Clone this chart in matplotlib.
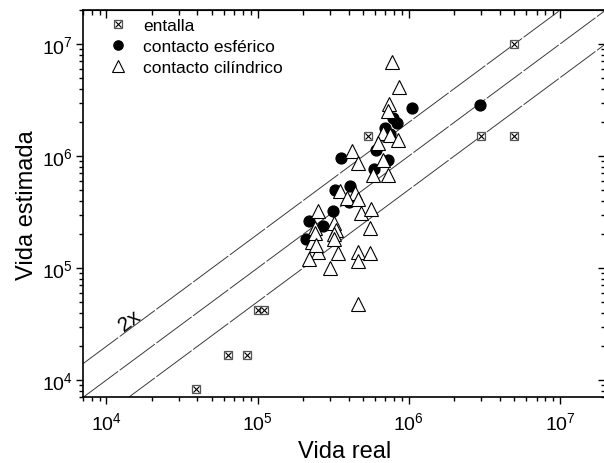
import numpy as np
import matplotlib
matplotlib.use("Agg")
import matplotlib.pyplot as plt
from matplotlib.ticker import NullFormatter
from matplotlib.legend_handler import HandlerTuple

plt.rcParams["font.family"] = ["Liberation Sans", "DejaVu Sans"]
plt.rcParams["mathtext.fontset"] = "custom"
plt.rcParams["mathtext.rm"] = "Liberation Sans"
plt.rcParams["mathtext.it"] = "Liberation Sans:italic"
plt.rcParams["mathtext.bf"] = "Liberation Sans:bold"
plt.rcParams["mathtext.default"] = "regular"

# vida real (x) / vida estimada (y), ciclos
entalla_real = [5.0e6, 3.0e6, 5.0e6, 5.4e5, 1.0e5, 1.1e5, 6.4e4, 8.5e4, 3.9e4]
entalla_est = [1.0e7, 1.5e6, 1.5e6, 1.5e6, 4.2e4, 4.2e4, 1.67e4, 1.67e4, 8.3e3]

esferico_real = [1.05e6, 2.97e6, 7.9e5, 8.4e5, 7.0e5, 7.5e5, 6.1e5, 3.57e5, 7.3e5,
                 5.9e5, 4.1e5, 3.26e5, 4.04e5, 3.16e5, 2.2e5, 2.72e5, 2.1e5]
esferico_est = [2.68e6, 2.85e6, 2.18e6, 1.97e6, 1.78e6, 1.57e6, 1.13e6, 9.6e5, 9.2e5,
                7.66e5, 5.4e5, 4.97e5, 3.88e5, 3.23e5, 2.63e5, 2.37e5, 1.8e5]

cilindrico_real = [7.8e5, 8.6e5, 7.4e5, 7.3e5, 6.8e5, 7.5e5, 8.5e5, 6.3e5, 4.2e5,
                   4.6e5, 6.7e5, 5.8e5, 7.3e5, 3.5e5, 4.4e5, 3.9e5, 4.6e5, 2.5e5,
                   4.8e5, 5.6e5, 3.2e5, 2.4e5, 3.3e5, 3.2e5, 5.5e5, 2.3e5, 3.2e5,
                   2.5e5, 3.4e5, 4.6e5, 5.5e5, 4.6e5, 2.2e5, 3.0e5, 4.6e5, 2.4e5,
                   2.45e5]
cilindrico_est = [6.9e6, 4.1e6, 2.9e6, 2.5e6, 1.6e6, 1.55e6, 1.4e6, 1.3e6, 1.1e6,
                  8.7e5, 9.2e5, 6.8e5, 6.8e5, 4.9e5, 4.7e5, 4.2e5, 4.1e5, 3.2e5,
                  3.1e5, 3.4e5, 2.5e5, 2.3e5, 2.2e5, 2.0e5, 2.3e5, 1.7e5, 1.8e5,
                  1.4e5, 1.35e5, 1.4e5, 1.35e5, 1.15e5, 1.2e5, 1.0e5, 4.8e4, 2.05e5,
                  1.6e5]

# bandas: estimada = factor * real
factores = [2.0, 1.0, 0.5]
xlim = (7e3, 2e7)
ylim = (7e3, 2e7)

W, H = 604, 464
fig = plt.figure(figsize=(W / 100, H / 100), dpi=100)
# axes placed in pixels (right spine falls just outside the canvas, as in the original)
x0, x1, ytop, ybot = 83, 605.5, 11.3, 398.4
ax = fig.add_axes([x0 / W, (H - ybot) / H, (x1 - x0) / W, (ybot - ytop) / H])
ax.set_xscale("log")
ax.set_yscale("log")
ax.set_xlim(*xlim)
ax.set_ylim(*ylim)

xs = np.array(xlim)
for f in factores:
    ax.plot(xs, xs * f, color="#3a3a3a", lw=0.7, ls=(0, (45, 2.0)), zorder=1)

sq, = ax.plot(entalla_real, entalla_est, ls="none", marker="s", ms=6.2,
              mfc="white", mec="#555555", mew=0.9, zorder=2)
xx, = ax.plot(entalla_real, entalla_est, ls="none", marker="x", ms=4.6,
              mec="black", mew=0.8, zorder=2)
circ, = ax.plot(esferico_real, esferico_est, ls="none", marker="o", ms=7.8,
                mfc="black", mec="black", zorder=3)
tri, = ax.plot(cilindrico_real, cilindrico_est, ls="none", marker="^", ms=9.4,
               mfc="white", mec="black", mew=0.8, zorder=4)

# "2x" label aligned with the upper line
p1 = ax.transData.transform((1e4, 2e4))
p2 = ax.transData.transform((1e6, 2e6))
ang = np.degrees(np.arctan2(p2[1] - p1[1], p2[0] - p1[0]))
ax.text(1.42e4, 3.45e4, "2x", rotation=ang, rotation_mode="anchor",
        ha="center", va="center", fontsize=15, zorder=5)

ax.set_xlabel("Vida real", fontsize=17, labelpad=5)
ax.set_ylabel("Vida estimada", fontsize=17, labelpad=3)

for s in ax.spines.values():
    s.set_linewidth(1.2)
ax.tick_params(which="both", direction="out", width=1.0, labelsize=14)
ax.tick_params(axis="x", pad=5)
ax.tick_params(axis="y", pad=2)
ax.tick_params(which="major", length=5)
ax.tick_params(which="minor", length=3)

secx = ax.secondary_xaxis("top")
secx.tick_params(which="both", direction="in", width=1.0)
secx.tick_params(which="major", length=6)
secx.tick_params(which="minor", length=3.5)
secx.xaxis.set_major_formatter(NullFormatter())
secx.xaxis.set_minor_formatter(NullFormatter())
secy = ax.secondary_yaxis("right")
secy.tick_params(which="both", direction="in", width=1.0)
secy.tick_params(which="major", length=6)
secy.tick_params(which="minor", length=3.5)
secy.yaxis.set_major_formatter(NullFormatter())
secy.yaxis.set_minor_formatter(NullFormatter())

ax.legend([(sq, xx), circ, tri],
          ["entalla", "contacto esférico", "contacto cilíndrico"],
          handler_map={tuple: HandlerTuple(ndivide=1)},
          loc="upper left", bbox_to_anchor=(0.028, 1.012), frameon=False,
          fontsize=12.5, markerscale=0.85, handlelength=1.0, handletextpad=0.9,
          labelspacing=0.33, borderpad=0.2)

fig.savefig("out.png", dpi=100)
